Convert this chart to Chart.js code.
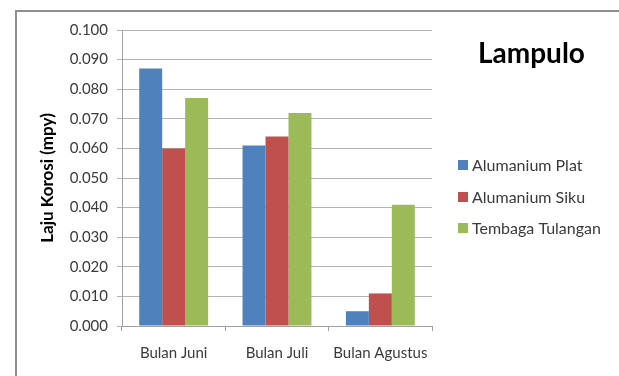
<!DOCTYPE html>
<html>
<head>
<meta charset="utf-8">
<script src="https://cdn.jsdelivr.net/npm/chart.js@4.4.1/dist/chart.umd.min.js"></script>
<style>
  html, body { margin: 0; padding: 0; background: #fff; }
  #wrap { width: 619px; height: 376px; }
</style>
</head>
<body>
<div id="wrap"><canvas id="lajuChart" width="619" height="376"></canvas></div>
<script>
// Categories and series
const months = ["Bulan Juni", "Bulan Juli", "Bulan Agustus"];
const alumPlat = [0.087, 0.061, 0.005];
const alumSiku = [0.060, 0.064, 0.011];
const tembagaTulangan = [0.077, 0.072, 0.041];
const seriesNames = ["Alumanium Plat", "Alumanium Siku", "Tembaga Tulangan"];
const seriesColors = ["#4F81BD", "#C0504D", "#9BBB59"];
const yTicks = [0, 0.01, 0.02, 0.03, 0.04, 0.05, 0.06, 0.07, 0.08, 0.09, 0.1];

const FONT = "Lato";
const TEXT = "#3a3a3a";

// White background + the outer frame line (left and top)
const framePlugin = {
  id: "frame",
  beforeDraw(chart) {
    const ctx = chart.ctx;
    ctx.save();
    ctx.fillStyle = "#fff";
    ctx.fillRect(0, 0, chart.width, chart.height);
    ctx.strokeStyle = "#8f8f8f";
    ctx.lineWidth = 2;
    ctx.beginPath();
    ctx.moveTo(16, chart.height);
    ctx.lineTo(16, 11);
    ctx.lineTo(chart.width, 11);
    ctx.stroke();
    ctx.restore();
  },
};

// Title and legend on the right side of the plot
const sidePlugin = {
  id: "side",
  afterDraw(chart) {
    const ctx = chart.ctx;
    ctx.save();
    ctx.fillStyle = "#000";
    ctx.font = "bold 28px " + FONT;
    ctx.textBaseline = "alphabetic";
    ctx.textAlign = "left";
    ctx.fillText("Lampulo", 478, 63);

    ctx.font = "16px " + FONT;
    ctx.textBaseline = "middle";
    const rowY = [165, 197, 228];
    chart.data.datasets.forEach((ds, i) => {
      ctx.fillStyle = ds.backgroundColor;
      ctx.fillRect(458, rowY[i] - 5, 10, 10);
      ctx.fillStyle = TEXT;
      ctx.fillText(ds.label, 472, rowY[i] + 1);
    });
    ctx.restore();
  },
};

const ctx = document.getElementById("lajuChart").getContext("2d");
new Chart(ctx, {
  type: "bar",
  data: {
    labels: months,
    datasets: [alumPlat, alumSiku, tembagaTulangan].map((vals, i) => ({
      label: seriesNames[i],
      data: vals,
      backgroundColor: seriesColors[i],
      borderWidth: 0,
      barPercentage: 1,
      categoryPercentage: 0.667,
    })),
  },
  options: {
    responsive: false,
    animation: false,
    layout: { padding: { left: 0, top: 30, right: 187, bottom: 0 } },
    plugins: {
      legend: { display: false },
      tooltip: { enabled: false },
    },
    scales: {
      x: {
        grid: {
          drawOnChartArea: false,
          drawTicks: true,
          tickLength: 5,
          color: "#a0a0a0",
        },
        border: { color: "#a0a0a0", width: 1 },
        ticks: {
          color: TEXT,
          font: { family: FONT, size: 15 },
          padding: 13,
          maxRotation: 0,
        },
        afterFit(scale) {
          scale.height = 50;
        },
      },
      y: {
        min: 0,
        max: 0.1,
        afterBuildTicks(scale) {
          scale.ticks = yTicks.map((v) => ({ value: v }));
        },
        grid: {
          color: "#b3b3b3",
          tickLength: 5,
          drawTicks: true,
        },
        border: { color: "#a0a0a0", width: 1 },
        ticks: {
          color: TEXT,
          font: { family: FONT, size: 15 },
          padding: 9,
          callback: (v) => Number(v).toFixed(3),
        },
        title: {
          display: true,
          text: "Laju Korosi (mpy)",
          color: "#000",
          font: { family: FONT, size: 17, weight: "bold" },
          padding: { top: 37, bottom: 0 },
        },
        afterFit(scale) {
          scale.width = 122;
        },
      },
    },
  },
  plugins: [framePlugin, sidePlugin],
});
</script>
</body>
</html>
